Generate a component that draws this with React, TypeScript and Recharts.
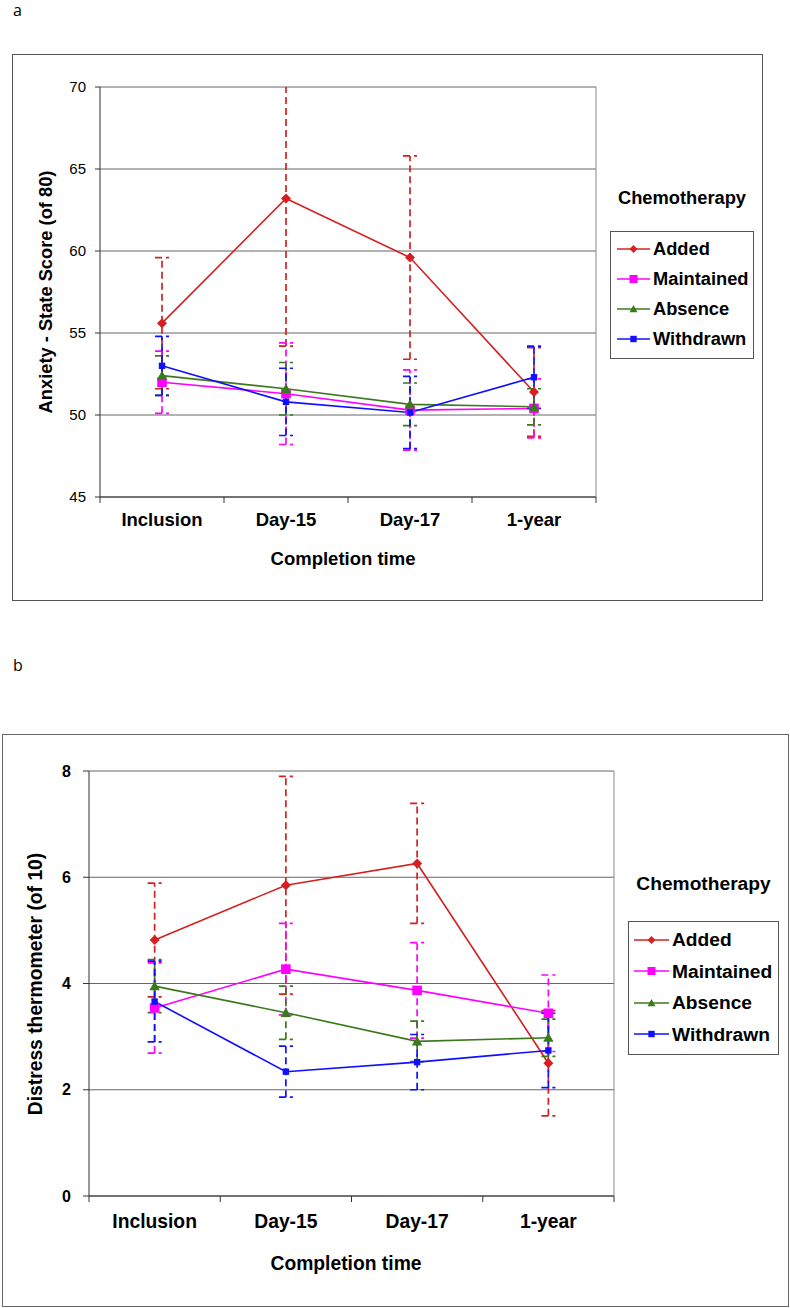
import React from "react";
import { LineChart, Line, XAxis, YAxis, CartesianGrid, ErrorBar, Legend } from "recharts";

const FONT = "'Liberation Sans', Arial, sans-serif";

const timepoints = ["Inclusion", "Day-15", "Day-17", "1-year"];

// panel a: anxiety state score (of 80)
const anxietyAdded = [55.6, 63.2, 59.6, 51.4];
const anxietyAddedErr = [4.0, 9.0, 6.2, 2.7];
const anxietyMaintained = [52.0, 51.3, 50.3, 50.4];
const anxietyMaintainedErr = [1.9, 3.1, 2.45, 1.8];
const anxietyAbsence = [52.4, 51.6, 50.65, 50.5];
const anxietyAbsenceErr = [1.2, 1.6, 1.3, 1.1];
const anxietyWithdrawn = [53.0, 50.8, 50.15, 52.3];
const anxietyWithdrawnErr = [1.8, 2.05, 2.2, 1.9];
const anxietyTicks = [45, 50, 55, 60, 65, 70];

// panel b: distress thermometer (of 10)
const distressAdded = [4.82, 5.85, 6.26, 2.5];
const distressAddedErr = [1.07, 2.05, 1.13, 0.99];
const distressMaintained = [3.54, 4.27, 3.87, 3.44];
const distressMaintainedErr = [0.85, 0.86, 0.9, 0.72];
const distressAbsence = [3.95, 3.45, 2.91, 2.98];
const distressAbsenceErr = [0.5, 0.5, 0.38, 0.35];
const distressWithdrawn = [3.66, 2.34, 2.52, 2.74];
const distressWithdrawnErr = [0.76, 0.48, 0.52, 0.7];
const distressTicks = [0, 2, 4, 6, 8];

const groups = [
  { key: "added", name: "Added", color: "#d42020", shape: "diamond", size: 5 },
  { key: "maintained", name: "Maintained", color: "#ff00ff", shape: "square", size: 4.8 },
  { key: "absence", name: "Absence", color: "#3a7a1c", shape: "triangle", size: 5.2 },
  { key: "withdrawn", name: "Withdrawn", color: "#1010ff", shape: "square", size: 3.2 },
];

function buildRows(series: number[][], errs: number[][]) {
  return timepoints.map((t, i) => {
    const row: any = { time: t };
    groups.forEach((g, j) => {
      row[g.key] = series[j][i];
      row[g.key + "Err"] = errs[j][i];
    });
    return row;
  });
}

const anxietyRows = buildRows(
  [anxietyAdded, anxietyMaintained, anxietyAbsence, anxietyWithdrawn],
  [anxietyAddedErr, anxietyMaintainedErr, anxietyAbsenceErr, anxietyWithdrawnErr]
);
const distressRows = buildRows(
  [distressAdded, distressMaintained, distressAbsence, distressWithdrawn],
  [distressAddedErr, distressMaintainedErr, distressAbsenceErr, distressWithdrawnErr]
);

function Marker({ cx, cy, shape, color, size }: any) {
  if (cx == null || cy == null) return null;
  if (shape === "diamond")
    return <path d={`M${cx},${cy - size}L${cx + size},${cy}L${cx},${cy + size}L${cx - size},${cy}Z`} fill={color} />;
  if (shape === "triangle")
    return <path d={`M${cx},${cy - size}L${cx + size},${cy + size * 0.8}L${cx - size},${cy + size * 0.8}Z`} fill={color} />;
  return <rect x={cx - size} y={cy - size} width={size * 2} height={size * 2} fill={color} />;
}

// category tick: label in the middle, tick marks on the band edges (Excel style)
function CatTick(props: any) {
  const { x, payload, index, band, axisY, fontSize, labelDy } = props;
  const left = x - band / 2;
  return (
    <g>
      <line x1={left} x2={left} y1={axisY} y2={axisY + 6} stroke="#333" />
      {index === timepoints.length - 1 && (
        <line x1={x + band / 2} x2={x + band / 2} y1={axisY} y2={axisY + 6} stroke="#333" />
      )}
      <text x={x} y={axisY + labelDy} dy="0.35em" textAnchor="middle" fontFamily={FONT} fontWeight={700} fontSize={fontSize} fill="#000">
        {payload.value}
      </text>
    </g>
  );
}

function GroupLegend({ payload, fontSize, boxWidth, titleGap, rowH, lineLen, lineOffset }: any) {
  const items = groups
    .map((g) => ({ g, item: (payload || []).find((it: any) => it.dataKey === g.key) }))
    .filter((x) => x.item);
  return (
    <div style={{ width: boxWidth, fontFamily: FONT, fontWeight: 700, fontSize, color: "#000" }}>
      <div style={{ textAlign: "center", height: 26, lineHeight: "26px" }}>Chemotherapy</div>
      <div style={{ marginTop: titleGap, border: "1px solid #555", padding: `2px 0 4px ${lineOffset}px` }}>
        {items.map(({ g, item }: any) => (
          <div key={g.key} style={{ display: "flex", alignItems: "center", height: rowH, lineHeight: `${rowH}px` }}>
            <svg width={lineLen} height={14} style={{ display: "block" }}>
              <line x1={0} x2={lineLen} y1={7} y2={7} stroke={g.color} strokeWidth={1.6} />
              <Marker cx={lineLen / 2} cy={7} shape={g.shape} color={g.color} size={Math.min(g.size, 4)} />
            </svg>
            <span style={{ marginLeft: 3 }}>{item.value}</span>
          </div>
        ))}
      </div>
    </div>
  );
}

const Y_W = 60;
const X_H = 40;

function Panel({ id, rows, ticks, domain, width, height, plot, fontSize, tickFont, tickBold, tickSize, tickMargin, legend }: any) {
  const band = (plot.right - plot.left) / timepoints.length;
  return (
    <>
      {/* clip for error bars that run past the axis maximum */}
      <svg width={0} height={0} style={{ position: "absolute" }}>
        <defs>
          <clipPath id={id} clipPathUnits="userSpaceOnUse">
            <rect x={plot.left - 10} y={plot.top} width={plot.right - plot.left + 20} height={plot.bottom - plot.top + 10} />
          </clipPath>
        </defs>
      </svg>
      <LineChart
        width={width}
        height={height}
        data={rows}
        margin={{ top: plot.top, left: plot.left - Y_W, right: width - plot.right - 1, bottom: height - plot.bottom - X_H }}
      >
        <CartesianGrid yAxisId="l" vertical={false} stroke="#666" />
        <XAxis
          dataKey="time"
          scale="band"
          height={X_H}
          interval={0}
          tickLine={false}
          tickSize={0}
          axisLine={{ stroke: "#333" }}
          tick={<CatTick band={band} axisY={plot.bottom} fontSize={fontSize} labelDy={plot.labelDy} />}
        />
        <YAxis
          yAxisId="l"
          domain={domain}
          ticks={ticks}
          interval={0}
          width={Y_W}
          allowDataOverflow
          tickSize={tickSize}
          tickMargin={tickMargin}
          axisLine={{ stroke: "#333" }}
          tickLine={{ stroke: "#333" }}
          tick={{ fontFamily: FONT, fontSize: tickFont, fontWeight: tickBold ? 700 : 400, fill: "#000" }}
        />
        <YAxis yAxisId="r" orientation="right" domain={domain} width={1} tick={false} tickLine={false} axisLine={{ stroke: "#888" }} />
        {groups.map((g) => (
          <Line
            key={g.key}
            yAxisId="l"
            dataKey={g.key}
            name={g.name}
            stroke={g.color}
            strokeWidth={1.6}
            isAnimationActive={false}
            dot={(p: any) => <Marker key={`${g.key}-${p.index}`} cx={p.cx} cy={p.cy} shape={g.shape} color={g.color} size={g.size} />}
            activeDot={false}
          >
            <ErrorBar
              dataKey={g.key + "Err"}
              direction="y"
              width={7}
              stroke={g.color}
              strokeWidth={1.7}
              strokeDasharray="7 4"
              clipPath={`url(#${id})`}
              isAnimationActive={false}
            />
          </Line>
        ))}
        <Legend
          layout="vertical"
          align="center"
          verticalAlign="middle"
          wrapperStyle={{ left: legend.left, top: legend.top, width: legend.boxWidth }}
          content={(p: any) => <GroupLegend {...p} {...legend} />}
        />
      </LineChart>
    </>
  );
}

function Rotated({ x, y, size, children }: any) {
  return (
    <div
      style={{
        position: "absolute",
        left: x,
        top: y,
        transform: "translate(-50%, -50%) rotate(-90deg)",
        whiteSpace: "nowrap",
        fontFamily: FONT,
        fontWeight: 700,
        fontSize: size,
        color: "#000",
      }}
    >
      {children}
    </div>
  );
}

function Centered({ x, y, size, children }: any) {
  return (
    <div
      style={{
        position: "absolute",
        left: x,
        top: y,
        transform: "translate(-50%, -50%)",
        whiteSpace: "nowrap",
        fontFamily: FONT,
        fontWeight: 700,
        fontSize: size,
        color: "#000",
      }}
    >
      {children}
    </div>
  );
}

export default function App() {
  return (
    <div style={{ position: "absolute", left: 0, top: 0, width: 790, height: 1308, background: "#fff", overflow: "hidden" }}>
      {/* panel a */}
      <div style={{ position: "absolute", left: 13, top: 2, lineHeight: "16px", fontFamily: "'Open Sans', sans-serif", fontSize: 16 }}>a</div>
      <div style={{ position: "absolute", left: 12, top: 54, width: 751, height: 547, border: "1px solid #555", boxSizing: "border-box" }} />
      <div style={{ position: "absolute", left: 0, top: 0 }}>
        <Panel
          id="clip-anxiety"
          rows={anxietyRows}
          ticks={anxietyTicks}
          domain={[45, 70]}
          width={790}
          height={620}
          plot={{ left: 100, right: 596, top: 87, bottom: 497, labelDy: 23 }}
          fontSize={18.5}
          tickFont={15}
          tickBold={false}
          tickSize={5}
          tickMargin={9}
          legend={{ left: 610, top: 185, boxWidth: 144, fontSize: 18.3, titleGap: 20, rowH: 30, lineLen: 33, lineOffset: 6 }}
        />
      </div>
      <Rotated x={46} y={292} size={18.3}>Anxiety - State Score (of 80)</Rotated>
      <Centered x={343} y={559} size={18.5}>Completion time</Centered>

      {/* panel b */}
      <div style={{ position: "absolute", left: 13, top: 657, lineHeight: "16px", fontFamily: "'Open Sans', sans-serif", fontSize: 16 }}>b</div>
      <div style={{ position: "absolute", left: 2, top: 734, width: 787, height: 573, border: "1px solid #666", boxSizing: "border-box" }} />
      <div style={{ position: "absolute", left: 0, top: 700 }}>
        <Panel
          id="clip-distress"
          rows={distressRows}
          ticks={distressTicks}
          domain={[0, 8]}
          width={790}
          height={608}
          plot={{ left: 89, right: 614, top: 71, bottom: 496, labelDy: 25 }}
          fontSize={19.3}
          tickFont={16}
          tickBold
          tickSize={6}
          tickMargin={12}
          legend={{ left: 628, top: 171, boxWidth: 151, fontSize: 19.2, titleGap: 24, rowH: 31.5, lineLen: 35, lineOffset: 5 }}
        />
      </div>
      <Rotated x={36} y={984} size={19.3}>Distress thermometer (of 10)</Rotated>
      <Centered x={346} y={1264} size={19.3}>Completion time</Centered>
    </div>
  );
}
